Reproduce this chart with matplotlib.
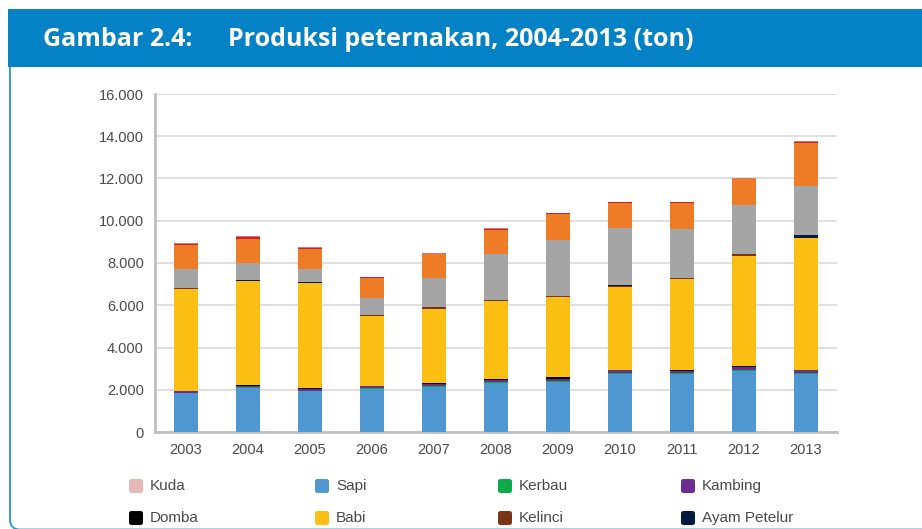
import matplotlib
matplotlib.use("Agg")
import matplotlib.pyplot as plt
from matplotlib.patches import Rectangle, FancyBboxPatch
from matplotlib.ticker import FuncFormatter
import numpy as np

# data (ton)
years = ['2003', '2004', '2005', '2006', '2007', '2008', '2009', '2010', '2011', '2012', '2013']
kuda = [10, 10, 10, 10, 10, 10, 10, 10, 10, 10, 10]
sapi = [1830, 2070, 1910, 2040, 2115, 2305, 2350, 2750, 2750, 2900, 2750]
kerbau = [15, 30, 30, 20, 40, 40, 40, 40, 40, 40, 40]
kambing = [65, 55, 85, 90, 120, 120, 120, 115, 100, 125, 115]
domba = [40, 40, 40, 40, 40, 40, 60, 40, 40, 40, 40]
babi = [4820, 4950, 4955, 3270, 3520, 3695, 3810, 3930, 4300, 5240, 6235]
kelinci = [20, 10, 10, 50, 50, 50, 60, 20, 50, 60, 10]
ayam_petelur = [20, 50, 60, 10, 10, 10, 10, 60, 20, 10, 120]
ayam_buras = [910, 780, 625, 810, 1380, 2165, 2625, 2685, 2295, 2315, 2315]
ayam_pedaging = [1100, 1150, 960, 960, 1135, 1150, 1230, 1185, 1215, 1230, 2060]
itik = [90, 100, 40, 30, 25, 40, 40, 40, 50, 20, 40]
itik_manila = [20, 20, 40, 20, 10, 40, 20, 20, 20, 50, 20]

series = [
    ('Kuda', kuda, '#E6B9B8'),
    ('Sapi', sapi, '#4E97D1'),
    ('Kerbau', kerbau, '#0DAA4B'),
    ('Kambing', kambing, '#6A2C91'),
    ('Domba', domba, '#000000'),
    ('Babi', babi, '#FBBF14'),
    ('Kelinci', kelinci, '#7B3416'),
    ('Ayam Petelur', ayam_petelur, '#061A40'),
    ('Ayam Buras', ayam_buras, '#A5A5A5'),
    ('Ayam Pedaging', ayam_pedaging, '#EE7B25'),
    ('Itik', itik, '#C8202F'),
    ('Itik Manila', itik_manila, '#E27175'),
]
legend_names = ['Kuda', 'Sapi', 'Kerbau', 'Kambing', 'Domba', 'Babi', 'Kelinci', 'Ayam Petelur']

W, H = 922, 529
fig = plt.figure(figsize=(W / 100, H / 100), dpi=100)

# background layer in pixel coordinates (frame, header, legend)
bg = fig.add_axes([0, 0, 1, 1], zorder=0)
bg.set_xlim(0, W)
bg.set_ylim(H, 0)
bg.axis('off')
blue = '#0582C6'
bg.add_patch(FancyBboxPatch((10, 20), 940, 509.5, boxstyle='round,pad=0,rounding_size=10',
                            facecolor='white', edgecolor='#2A93D5', linewidth=1.3))
bg.add_patch(Rectangle((8, 9), 930, 58, facecolor=blue, edgecolor='none'))
bg.text(43, 40, 'Gambar 2.4:', color='white', fontsize=18, fontweight='bold',
        family='Open Sans', va='center', ha='left')
bg.text(228, 40, 'Produksi peternakan, 2004-2013 (ton)', color='white', fontsize=18,
        fontweight='bold', family='Open Sans', va='center', ha='left')

colors = {n: c for n, _, c in series}
col_x = [129, 315, 498, 681]
row_y = [486, 518]
for i, name in enumerate(legend_names):
    cx = col_x[i % 4]
    cy = row_y[i // 4]
    bg.add_patch(FancyBboxPatch((cx, cy - 7), 14, 14, boxstyle='round,pad=0,rounding_size=2.5',
                                facecolor=colors[name], edgecolor='none'))
    bg.text(cx + 21, cy, name, fontsize=11, color='#4A4A4A',
            family='Liberation Sans', va='center', ha='left')

# chart
ax = fig.add_axes([155 / W, 1 - 432 / H, (837 - 155) / W, (432 - 94) / H], zorder=1)
ax.patch.set_alpha(0)
x = np.arange(len(years))
bottom = np.zeros(len(years))
for name, vals, col in series:
    ax.bar(x, vals, width=0.39, bottom=bottom, color=col, edgecolor='none', zorder=3)
    bottom += np.array(vals)

ax.set_xlim(-0.5, 10.5)
ax.set_ylim(0, 16000)
ax.set_yticks(np.arange(0, 16001, 2000))
ax.yaxis.set_major_formatter(FuncFormatter(lambda v, p: f'{int(v):,}'.replace(',', '.')))
ax.set_xticks(x)
ax.set_xticklabels(years)
ax.grid(axis='y', color='#D9D9D9', linewidth=1.2, zorder=0)
for s in ['top', 'right']:
    ax.spines[s].set_visible(False)
for s in ['left', 'bottom']:
    ax.spines[s].set_color('#BFBFBF')
    ax.spines[s].set_linewidth(2)
ax.tick_params(length=0, labelsize=10.5, colors='#4A4A4A', pad=8)
for lab in ax.get_xticklabels() + ax.get_yticklabels():
    lab.set_family('Liberation Sans')

fig.savefig('out.png', dpi=100)
